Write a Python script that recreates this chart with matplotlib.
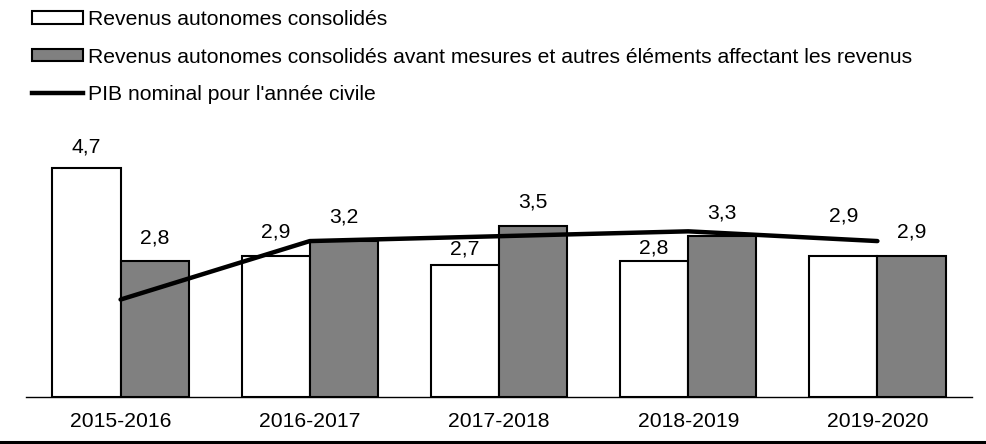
import matplotlib
matplotlib.use("Agg")
import matplotlib.pyplot as plt
from matplotlib.patches import Patch
from matplotlib.lines import Line2D
import numpy as np

plt.rcParams['font.family'] = ['Liberation Sans', 'DejaVu Sans']

categories = ["2015-2016", "2016-2017", "2017-2018", "2018-2019", "2019-2020"]
revenus = [4.7, 2.9, 2.7, 2.8, 2.9]
revenus_avant = [2.8, 3.2, 3.5, 3.3, 2.9]
pib = [2.0, 3.2, 3.3, 3.4, 3.2]
label_revenus = "Revenus autonomes consolidés"
label_avant = "Revenus autonomes consolidés avant mesures et autres éléments affectant les revenus"
label_pib = "PIB nominal pour l'année civile"

# label offsets (pixels above bar top)
off_rev = [21, 24, 16, 13, 40]
off_av = [23, 24, 24, 23, 24]

W, H = 987, 444
fig = plt.figure(figsize=(W / 100, H / 100), dpi=100)
ax = fig.add_axes([26 / W, (H - 397) / H, 946 / W, 268 / H])

x = np.arange(len(categories))
bw = 0.36
ax.bar(x - bw / 2, revenus, bw, color='white', edgecolor='black', linewidth=1.5, zorder=2)
ax.bar(x + bw / 2, revenus_avant, bw, color='#808080', edgecolor='black', linewidth=1.5, zorder=2)
ax.plot(x, pib, color='black', linewidth=3.2, zorder=3, solid_capstyle='round')

fs = 15.2
for xi, v, o in zip(x - bw / 2, revenus, off_rev):
    ax.annotate(f"{v:.1f}".replace('.', ','), (xi, v), xytext=(0, o), textcoords='offset pixels',
                ha='center', va='center', fontsize=fs)
for xi, v, o in zip(x + bw / 2, revenus_avant, off_av):
    ax.annotate(f"{v:.1f}".replace('.', ','), (xi, v), xytext=(0, o), textcoords='offset pixels',
                ha='center', va='center', fontsize=fs)

ax.set_xlim(-0.5, len(categories) - 0.5)
ax.set_ylim(0, 5.5)
ax.set_xticks(x)
ax.set_xticklabels(categories, fontsize=fs)
ax.tick_params(axis='x', length=0, pad=11)
ax.set_yticks([])
for s in ['top', 'right', 'left']:
    ax.spines[s].set_visible(False)
ax.spines['bottom'].set_linewidth(1.0)

# bottom rule
fig.add_artist(Line2D([0, 1], [2 / H, 2 / H], color='black', linewidth=2.2, transform=fig.transFigure))

handles = [Patch(facecolor='white', edgecolor='black', linewidth=1.5),
           Patch(facecolor='#808080', edgecolor='black', linewidth=1.5),
           Line2D([], [], color='black', linewidth=3.2)]
lfs = 15.2
fpx = lfs * 100 / 72
fig.legend(handles, [label_revenus, label_avant, label_pib], loc='upper left',
           bbox_to_anchor=(32 / W, 1 - 10 / H), frameon=False, fontsize=lfs,
           borderpad=0, borderaxespad=0, handlelength=51 / fpx, handleheight=0.52,
           handletextpad=5 / fpx, labelspacing=0.88)

fig.savefig("out.png", dpi=100)
